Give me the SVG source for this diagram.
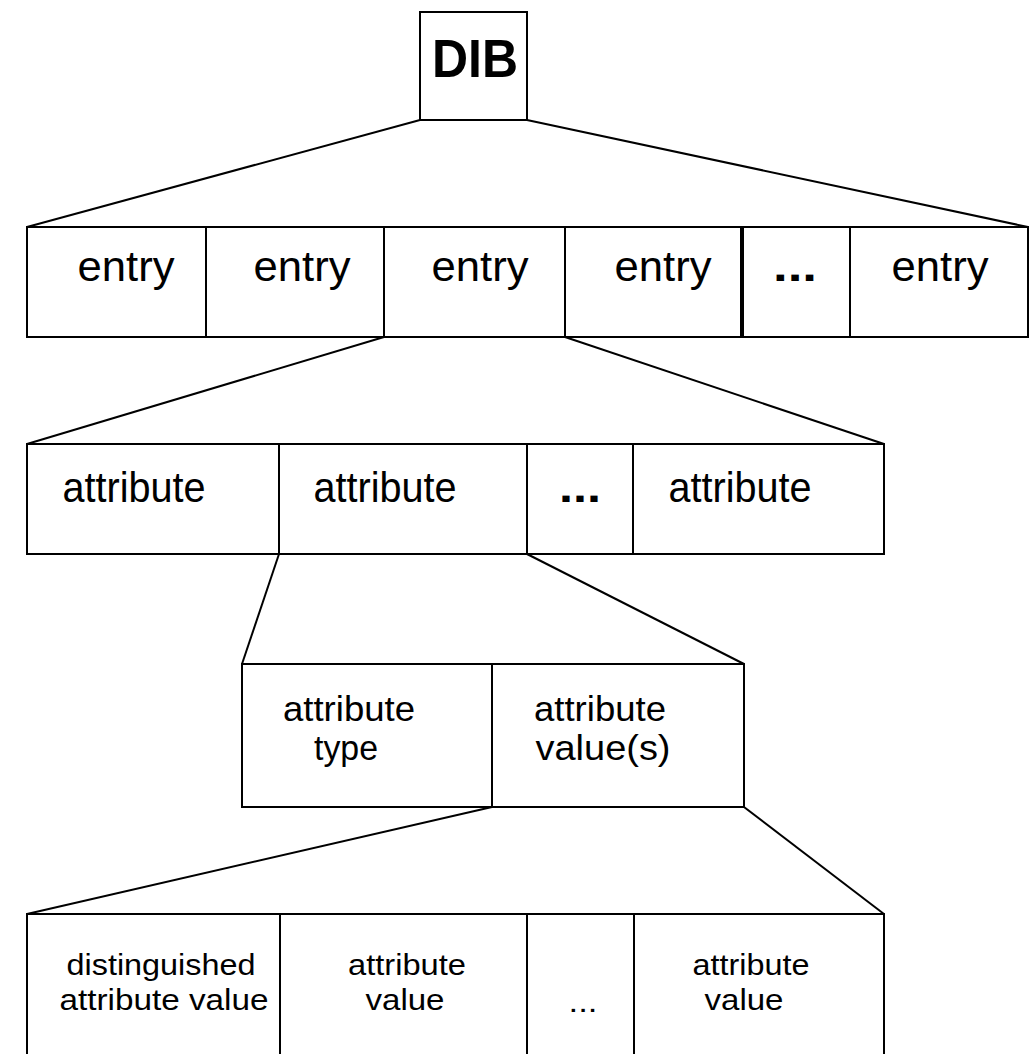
<svg xmlns="http://www.w3.org/2000/svg" width="1036" height="1054" viewBox="0 0 1036 1054">
<style>
  .box { fill: #fff; stroke: #000; stroke-width: 2; }
  .conn { stroke: #000; stroke-width: 2; fill: none; }
  text { font-family: "Liberation Sans", Arial, sans-serif; fill: #000; text-anchor: middle; }
  .dib { font-size: 54px; font-weight: bold; }
  .lg { font-size: 42px; }
  .md { font-size: 35px; }
  .sm { font-size: 29px; }
  .dots { font-size: 42px; font-weight: bold; }
</style>
<rect width="1036" height="1054" fill="#fff"/>
<g id="connectors">
  <line class="conn" x1="420" y1="120" x2="27" y2="227"/>
  <line class="conn" x1="527" y1="120" x2="1028" y2="227"/>
  <line class="conn" x1="384" y1="337" x2="27" y2="444"/>
  <line class="conn" x1="565" y1="337" x2="884" y2="444"/>
  <line class="conn" x1="279" y1="554" x2="242" y2="664"/>
  <line class="conn" x1="527" y1="554" x2="744" y2="664"/>
  <line class="conn" x1="492" y1="807" x2="27" y2="914"/>
  <line class="conn" x1="744" y1="807" x2="884" y2="914"/>
</g>
<g id="dib">
  <rect class="box" x="420" y="12" width="107" height="108"/>
  <text class="dib" x="475" y="77" textLength="86" lengthAdjust="spacingAndGlyphs">DIB</text>
</g>
<g id="entries">
  <g id="entry1"><rect class="box" x="27" y="227" width="179" height="110"/><text class="lg" x="126" y="281" textLength="97" lengthAdjust="spacingAndGlyphs">entry</text></g>
  <g id="entry2"><rect class="box" x="206" y="227" width="178" height="110"/><text class="lg" x="302" y="281" textLength="97" lengthAdjust="spacingAndGlyphs">entry</text></g>
  <g id="entry3"><rect class="box" x="384" y="227" width="181" height="110"/><text class="lg" x="480" y="281" textLength="97" lengthAdjust="spacingAndGlyphs">entry</text></g>
  <g id="entry4"><rect class="box" x="565" y="227" width="177" height="110"/><text class="lg" x="663" y="281" textLength="97" lengthAdjust="spacingAndGlyphs">entry</text></g>
  <g id="entry-more"><rect class="box" x="742" y="227" width="108" height="110"/><line x1="742" y1="227" x2="742" y2="337" stroke="#000" stroke-width="4"/><text class="dots" x="795" y="281" textLength="44" lengthAdjust="spacingAndGlyphs">...</text></g>
  <g id="entry6"><rect class="box" x="850" y="227" width="178" height="110"/><text class="lg" x="940" y="281" textLength="97" lengthAdjust="spacingAndGlyphs">entry</text></g>
</g>
<g id="attributes">
  <g id="attr1"><rect class="box" x="27" y="444" width="252" height="110"/><text class="lg" x="134" y="502" textLength="143" lengthAdjust="spacingAndGlyphs">attribute</text></g>
  <g id="attr2"><rect class="box" x="279" y="444" width="248" height="110"/><text class="lg" x="385" y="502" textLength="143" lengthAdjust="spacingAndGlyphs">attribute</text></g>
  <g id="attr-more"><rect class="box" x="527" y="444" width="106" height="110"/><text class="dots" x="580" y="502" textLength="42" lengthAdjust="spacingAndGlyphs">...</text></g>
  <g id="attr4"><rect class="box" x="633" y="444" width="251" height="110"/><text class="lg" x="740" y="502" textLength="143" lengthAdjust="spacingAndGlyphs">attribute</text></g>
</g>
<g id="attribute-parts">
  <g id="attr-type"><rect class="box" x="242" y="664" width="250" height="143"/>
    <text class="md" x="349" y="721" textLength="132" lengthAdjust="spacingAndGlyphs">attribute</text>
    <text class="md" x="346" y="760" textLength="64" lengthAdjust="spacingAndGlyphs">type</text></g>
  <g id="attr-values"><rect class="box" x="492" y="664" width="252" height="143"/>
    <text class="md" x="600" y="721" textLength="132" lengthAdjust="spacingAndGlyphs">attribute</text>
    <text class="md" x="603" y="760" textLength="135" lengthAdjust="spacingAndGlyphs">value(s)</text></g>
</g>
<g id="values">
  <g id="dist-value"><rect class="box" x="27" y="914" width="253" height="160"/>
    <text class="sm" x="161" y="975" textLength="189" lengthAdjust="spacingAndGlyphs">distinguished</text>
    <text class="sm" x="164" y="1010" textLength="209" lengthAdjust="spacingAndGlyphs">attribute value</text></g>
  <g id="value2"><rect class="box" x="280" y="914" width="247" height="160"/>
    <text class="sm" x="407" y="975" textLength="118" lengthAdjust="spacingAndGlyphs">attribute</text>
    <text class="sm" x="405" y="1010" textLength="79" lengthAdjust="spacingAndGlyphs">value</text></g>
  <g id="value-more"><rect class="box" x="527" y="914" width="107" height="160"/>
    <text class="sm" x="583" y="1012" textLength="29" lengthAdjust="spacingAndGlyphs">...</text></g>
  <g id="value4"><rect class="box" x="634" y="914" width="250" height="160"/>
    <text class="sm" x="751" y="975" textLength="117" lengthAdjust="spacingAndGlyphs">attribute</text>
    <text class="sm" x="744" y="1010" textLength="79" lengthAdjust="spacingAndGlyphs">value</text></g>
</g>
</svg>
